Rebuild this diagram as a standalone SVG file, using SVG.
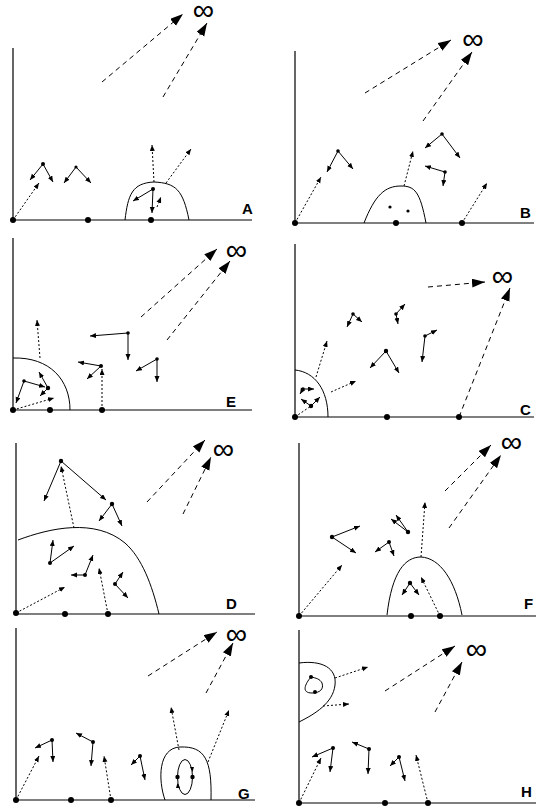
<svg xmlns="http://www.w3.org/2000/svg" width="536" height="809" viewBox="0 0 536 809">
<defs>
<marker id="big" markerWidth="14" markerHeight="10" refX="13" refY="4.5" orient="auto" markerUnits="userSpaceOnUse"><path d="M0,0 L13,4.5 L0,9 z" fill="#000"/></marker>
<marker id="sm" markerWidth="7" markerHeight="6" refX="6" refY="2.5" orient="auto" markerUnits="userSpaceOnUse"><path d="M0,0 L6,2.5 L0,5 z" fill="#000"/></marker>
</defs>
<style>
.ax{fill:none;stroke:#000;stroke-width:1.2}
.cv{fill:none;stroke:#000;stroke-width:1}
.dl{fill:none;stroke:#000;stroke-width:1;stroke-dasharray:5,4;marker-end:url(#big)}
.dt{fill:none;stroke:#000;stroke-width:1;stroke-dasharray:2,2;marker-end:url(#sm)}
.dn{fill:none;stroke:#000;stroke-width:1;stroke-dasharray:2,2}
.so{fill:none;stroke:#000;stroke-width:1;marker-end:url(#sm)}
.bd{fill:#000}
.lb{font-family:"Liberation Sans",Arial,sans-serif;font-weight:bold;font-size:15px}
.inf{font-family:"DejaVu Sans ExtraLight","DejaVu Sans",sans-serif;font-weight:200;font-size:30px;text-anchor:middle}
</style>

<!-- Panel A -->
<g id="panelA">
<path class="ax" d="M13,48 V220 H252"/>
<path class="cv" d="M125,220 C128,195 132,183 154,182 C176,183 183,190 189,220"/>
<text class="inf" x="203.5" y="20">∞</text>
<text class="lb" x="242" y="214">A</text>
<circle class="bd" cx="13" cy="220" r="3"/><circle class="bd" cx="88" cy="220" r="3"/><circle class="bd" cx="151" cy="220" r="3"/>
<circle class="bd" cx="43" cy="164" r="2"/><circle class="bd" cx="76" cy="167" r="1.6"/><circle class="bd" cx="153" cy="189" r="2"/>
</g>
<g id="panelA-connectors">
<path class="dl" d="M102,82 L183,14"/><path class="dl" d="M163,97 L207,23"/>
<path class="dt" d="M13,220 L39,183"/><path class="dt" d="M154,182 L152,145"/><path class="dt" d="M166,183 L191,149"/><path class="dt" d="M157,207 L161,197"/>
<path class="so" d="M43,164 L30,180"/><path class="so" d="M43,164 L53,182"/>
<path class="so" d="M76,167 L64,183"/><path class="so" d="M76,167 L91,183"/>
<path class="so" d="M153,189 L133,201"/><path class="so" d="M153,189 L152,213"/>
</g>

<!-- Panel B -->
<g id="panelB">
<path class="ax" d="M295,51 V223 H534"/>
<path class="cv" d="M364,223 C375,195 385,186 401,186 C415,186 420,192 426,223"/>
<text class="inf" x="473" y="49">∞</text>
<text class="lb" x="520" y="218">B</text>
<circle class="bd" cx="295" cy="223" r="3"/><circle class="bd" cx="396" cy="223" r="3"/><circle class="bd" cx="462" cy="223" r="3"/>
<circle class="bd" cx="390" cy="207" r="1.6"/><circle class="bd" cx="408" cy="211" r="1.6"/>
<circle class="bd" cx="338" cy="151" r="1.8"/><circle class="bd" cx="442" cy="134" r="1.8"/><circle class="bd" cx="445" cy="172" r="1.8"/>
</g>
<g id="panelB-connectors">
<path class="dl" d="M365,93 L451,40"/><path class="dl" d="M423,121 L472,52"/>
<path class="dt" d="M295,223 L321,177"/><path class="dt" d="M404,186 L413,151"/><path class="dt" d="M462,223 L487,183"/>
<path class="so" d="M338,151 L327,172"/><path class="so" d="M338,151 L353,169"/>
<path class="so" d="M442,134 L425,148"/><path class="so" d="M442,134 L460,158"/>
<path class="so" d="M445,172 L425,166"/><path class="so" d="M445,172 L443,186"/>
</g>

<!-- Panel E -->
<g id="panelE">
<path class="ax" d="M13,238 V410 H252"/>
<path class="cv" d="M13,358 C50,357 70,380 70,410"/>
<text class="inf" x="236.5" y="260">∞</text>
<text class="lb" x="226" y="407">E</text>
<circle class="bd" cx="13" cy="410" r="3"/><circle class="bd" cx="50" cy="410" r="3"/><circle class="bd" cx="102" cy="410" r="3"/>
<circle class="bd" cx="128" cy="333" r="1.8"/><circle class="bd" cx="101" cy="366" r="2"/><circle class="bd" cx="157" cy="359" r="1.8"/>
<circle class="bd" cx="24" cy="381" r="1.8"/><circle class="bd" cx="48" cy="388" r="2.2"/>
</g>
<g id="panelE-connectors">
<path class="dl" d="M141,317 L217,249"/><path class="dl" d="M167,340 L230,261"/>
<path class="dt" d="M40,358 L37,320"/><path class="dt" d="M13,410 L54,398"/><path class="dt" d="M102,410 L102,369"/>
<path class="so" d="M128,333 L90,336"/><path class="so" d="M128,333 L128,360"/>
<path class="so" d="M101,366 L78,362"/><path class="so" d="M101,366 L87,379"/>
<path class="so" d="M157,359 L136,371"/><path class="so" d="M157,359 L157,382"/>
<path class="so" d="M24,381 L16,403"/><path class="so" d="M24,381 L45,387"/>
<path class="so" d="M48,388 L39,372"/><path class="so" d="M48,388 L40,396"/>
</g>

<!-- Panel C -->
<g id="panelC">
<path class="ax" d="M295,244 V417 H534"/>
<path class="cv" d="M295,370 C315,372 328,390 328,417"/>
<text class="inf" x="502.5" y="285.5">∞</text>
<text class="lb" x="520" y="415">C</text>
<circle class="bd" cx="295" cy="417" r="3"/><circle class="bd" cx="387" cy="417" r="3"/><circle class="bd" cx="459" cy="417" r="3"/>
<circle class="bd" cx="353" cy="314" r="1.8"/><circle class="bd" cx="396" cy="314" r="1.8"/><circle class="bd" cx="425" cy="336" r="1.8"/><circle class="bd" cx="386" cy="351" r="2.2"/>
<circle class="bd" cx="311" cy="406" r="2.2"/><circle class="bd" cx="303" cy="389" r="1.8"/>
</g>
<g id="panelC-connectors">
<path class="dl" d="M428,287 L485,282"/><path class="dl" d="M459,417 L510,288"/>
<path class="dt" d="M316,377 L327,341"/><path class="dt" d="M331,392 L356,381"/><path class="dn" d="M295,417 L311,406"/>
<path class="so" d="M353,314 L347,327"/><path class="so" d="M353,314 L362,322"/>
<path class="so" d="M396,314 L405,304"/><path class="so" d="M396,314 L398,324"/>
<path class="so" d="M425,336 L437,330"/><path class="so" d="M425,336 L422,362"/>
<path class="so" d="M386,351 L370,368"/><path class="so" d="M386,351 L399,373"/>
<path class="so" d="M311,406 L320,397"/><path class="so" d="M311,406 L301,399"/>
<path class="so" d="M303,389 L300,394"/><path class="so" d="M303,389 L314,389"/>
</g>

<!-- Panel D -->
<g id="panelD">
<path class="ax" d="M16,443 V614 H255"/>
<path class="cv" d="M18,540 C50,528 95,518 125,543 C142,558 152,585 159,614"/>
<text class="inf" x="223.5" y="459">∞</text>
<text class="lb" x="226" y="609">D</text>
<circle class="bd" cx="16" cy="613" r="3"/><circle class="bd" cx="65" cy="614" r="3"/><circle class="bd" cx="108" cy="614" r="3"/>
<circle class="bd" cx="61" cy="461" r="2.2"/><circle class="bd" cx="112" cy="504" r="2.2"/><circle class="bd" cx="50" cy="563" r="2"/><circle class="bd" cx="85" cy="575" r="2"/><circle class="bd" cx="115" cy="584" r="2"/>
</g>
<g id="panelD-connectors">
<path class="dl" d="M147,502 L205,440"/><path class="dl" d="M183,514 L211,457"/>
<path class="dt" d="M74,528 L61,466"/><path class="dt" d="M16,613 L65,587"/><path class="dt" d="M108,614 L99,568"/>
<path class="so" d="M61,461 L44,501"/><path class="so" d="M61,461 L106,500"/>
<path class="so" d="M112,504 L99,521"/><path class="so" d="M112,504 L122,526"/>
<path class="so" d="M50,563 L53,540"/><path class="so" d="M50,563 L74,546"/>
<path class="so" d="M85,575 L71,575"/><path class="so" d="M85,575 L93,555"/>
<path class="so" d="M115,584 L123,572"/><path class="so" d="M115,584 L128,598"/>
</g>

<!-- Panel F -->
<g id="panelF">
<path class="ax" d="M299,443 V616 H536"/>
<path class="cv" d="M387,615 C392,572 405,557 421,557 C440,558 455,580 462,615"/>
<text class="inf" x="511.5" y="452">∞</text>
<text class="lb" x="524" y="609">F</text>
<circle class="bd" cx="299" cy="616" r="3"/><circle class="bd" cx="411" cy="616" r="3"/><circle class="bd" cx="440" cy="616" r="3"/>
<circle class="bd" cx="332" cy="537" r="2.2"/><circle class="bd" cx="389" cy="542" r="2"/><circle class="bd" cx="408" cy="532" r="2.2"/><circle class="bd" cx="410" cy="583" r="2.2"/>
</g>
<g id="panelF-connectors">
<path class="dl" d="M445,491 L491,445"/><path class="dl" d="M449,528 L501,455"/>
<path class="dt" d="M421,557 L425,502"/><path class="dt" d="M299,616 L342,565"/><path class="dt" d="M440,616 L421,577"/>
<path class="so" d="M332,537 L360,526"/><path class="so" d="M332,537 L356,553"/>
<path class="so" d="M389,542 L375,552"/><path class="so" d="M389,542 L394,556"/>
<path class="so" d="M408,532 L391,519"/><path class="so" d="M408,532 L396,515"/>
<path class="so" d="M410,583 L402,595"/><path class="so" d="M410,583 L419,595"/>
</g>

<!-- Panel G -->
<g id="panelG">
<path class="ax" d="M16,628 V800 H255"/>
<path class="cv" d="M165,800 C158,780 158,748 180,747 C205,746 212,760 211,800"/>
<ellipse class="cv" cx="185" cy="777" rx="7.5" ry="17.5"/>
<path d="M190,767 L194,767 L192.5,772 z" class="bd"/>
<path d="M176,788 L180,788 L177.5,783 z" class="bd"/>
<text class="inf" x="236.5" y="644">∞</text>
<text class="lb" x="238" y="799">G</text>
<circle class="bd" cx="16" cy="800" r="3"/><circle class="bd" cx="71" cy="800" r="3"/><circle class="bd" cx="111" cy="800" r="3"/>
<circle class="bd" cx="177.5" cy="777" r="2.2"/><circle class="bd" cx="192.5" cy="777" r="2.2"/>
<circle class="bd" cx="52" cy="740" r="2"/><circle class="bd" cx="93" cy="742" r="2"/><circle class="bd" cx="140" cy="756" r="2"/>
</g>
<g id="panelG-connectors">
<path class="dl" d="M148,676 L217,632"/><path class="dl" d="M206,693 L233,643"/>
<path class="dt" d="M179,750 L171,707"/><path class="dt" d="M208,762 L229,710"/><path class="dt" d="M16,800 L39,756"/><path class="dt" d="M111,800 L104,756"/>
<path class="so" d="M52,740 L35,748"/><path class="so" d="M52,740 L53,762"/>
<path class="so" d="M93,742 L76,733"/><path class="so" d="M93,742 L91,766"/>
<path class="so" d="M140,756 L131,765"/><path class="so" d="M140,756 L145,780"/>
</g>

<!-- Panel H -->
<g id="panelH">
<path class="ax" d="M299,630 V803 H536"/>
<path class="cv" d="M299,663 C322,660 337,668 335,685 C333,703 315,714 299,722"/>
<path class="cv" d="M311,677 C305,684 301,693 312,693 C320,693 324,689 322,683 C320,679 316,678 311,677 Z"/>
<text class="inf" x="476.5" y="659">∞</text>
<text class="lb" x="521" y="797">H</text>
<circle class="bd" cx="299" cy="803" r="3"/><circle class="bd" cx="385" cy="803" r="3"/><circle class="bd" cx="428" cy="803" r="3"/>
<circle class="bd" cx="311" cy="677" r="2"/><circle class="bd" cx="315" cy="692" r="2"/>
<circle class="bd" cx="333" cy="748" r="2"/><circle class="bd" cx="369" cy="749" r="2"/><circle class="bd" cx="399" cy="757" r="2"/>
</g>
<g id="panelH-connectors">
<path class="dl" d="M385,691 L455,646"/><path class="dl" d="M435,712 L462,662"/>
<path class="dt" d="M335,678 L368,667"/><path class="dt" d="M323,706 L349,704"/><path class="dt" d="M299,803 L321,758"/><path class="dt" d="M428,803 L416,755"/>
<path class="so" d="M333,748 L312,757"/><path class="so" d="M333,748 L330,772"/>
<path class="so" d="M369,749 L352,742"/><path class="so" d="M369,749 L368,774"/>
<path class="so" d="M399,757 L390,766"/><path class="so" d="M399,757 L405,781"/>
</g>
</svg>
